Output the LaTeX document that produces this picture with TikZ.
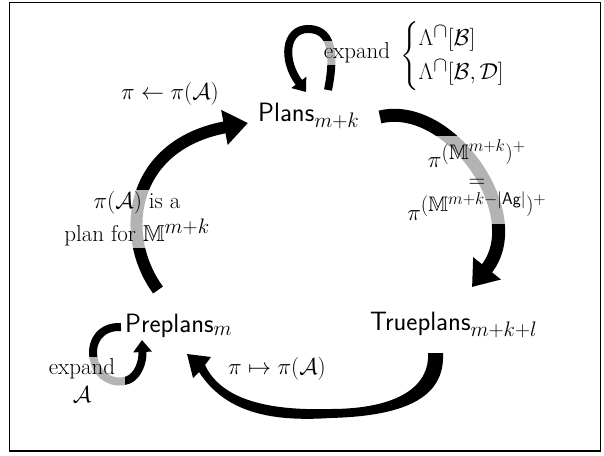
\documentclass[tikz,border=0pt]{standalone}
\usepackage{fix-cm}
\usepackage{amsmath,amssymb}
\usepackage{fontspec}
\DeclareMathSizes{23}{23}{21}{17}
\usetikzlibrary{arrows.meta}
\begin{document}
\begin{tikzpicture}[x=1pt,y=-1pt,
  big/.style={font=\fontsize{23}{28}\selectfont,inner sep=0pt},
  lab/.style={font=\fontsize{23}{28}\selectfont,inner sep=2pt},
  veil/.style={fill=white,fill opacity=0.7,text opacity=1},
  bigarrow/.style={line width=#1,-{Triangle[length=24pt,width=34pt]}},
  smallarrow/.style={line width=8pt,-{Triangle[length=12pt,width=18pt]}}]
\newcommand{\bigsf}[1]{{\fontsize{26.5}{30}\selectfont\sffamily #1}}
\useasboundingbox (0,0) rectangle (604,455);
\draw[line width=1.5pt] (9.5,2.5) rectangle (600.5,451);

% main nodes
\node[big,anchor=base west] (plans) at (258,121) {\bigsf{Plans}$_{m+k}$};
\node[big,anchor=base west] (true) at (370,330) {\bigsf{Trueplans}$_{m+k+l}$};
\node[big,anchor=base west] (pre) at (125,332) {\bigsf{Preplans}$_m$};

% connector coordinates
\coordinate (a1s) at (380,117);
\coordinate (a1e) at (472,287);
\coordinate (a3s) at (158,290);
\coordinate (a3e) at (248,123);

% Plans -> Trueplans
\draw[bigarrow=13pt] (a1s) .. controls (450,100) and (530,215) .. (a1e);
% Preplans -> Plans
\draw[bigarrow=12pt] (a3s) .. controls (118,235) and (130,145) .. (a3e);
% Trueplans -> Preplans (tapered)
\fill (443,353) .. controls (445,395) and (410,416) .. (330,418)
  .. controls (270,422) and (225,412) .. (199,372)
  -- (193,378) -- (187,354) -- (211,357) -- (205,365)
  .. controls (220,397) and (262,411) .. (330,409)
  .. controls (400,409) and (430,385) .. (428,353) -- cycle;

% self loops
\draw[smallarrow] (328,90) .. controls (336,50) and (330,29) .. (308,29)
  .. controls (285,29) and (282,60) .. (306,92);
\draw[smallarrow] (121,327) .. controls (98,326) and (90,345) .. (94,360)
  .. controls (98,378) and (115,385) .. (128,380)
  .. controls (138,376) and (143,362) .. (142,340);

% labels
\node[lab,veil] (exp1) at (357,53) {expand};
\node[lab,anchor=west,inner sep=0pt] (cases1) at (400,56)
  {$\begin{cases}\Lambda^{\cap}[\mathcal{B}]\\ \Lambda^{\cap}[\mathcal{B},\mathcal{D}]\end{cases}$};
\node[lab] (l1) at (170,94) {$\pi\leftarrow\pi(\mathcal{A})$};
\node[lab,veil,align=center,font=\fontsize{23}{33}\selectfont] (l2) at (137,219)
  {$\pi(\mathcal{A})$ is a\\ plan for $\mathbb{M}^{m+k}$};
\node[lab,veil,align=center,font=\fontsize{23}{20}\selectfont,inner sep=4pt] (l3) at (477,180)
  {$\pi^{(\mathbb{M}^{m+k})^+}$\\ $=$\\[3pt] $\pi^{(\mathbb{M}^{m+k-|\mathsf{Ag}|})^+}$};
\node[lab] (l4) at (277,369) {$\pi\mapsto\pi(\mathcal{A})$};
\node[lab,veil,align=center,inner xsep=10pt] (l5) at (82,381) {expand\\ $\mathcal{A}$};
\end{tikzpicture}
\end{document}
